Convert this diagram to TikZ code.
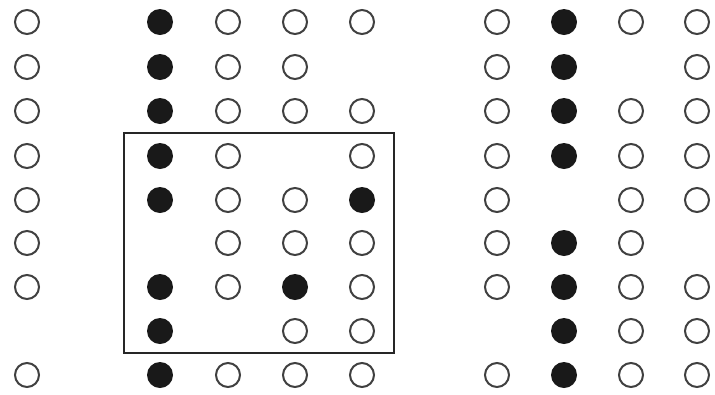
\documentclass[tikz,border=0pt]{standalone}
\usepackage{tikz}
\tikzset{
  hole/.style={circle, draw=black!75, line width=1.5pt, fill=white, minimum size=18pt, inner sep=0pt},
  bead/.style={circle, fill=black!90, minimum size=19.5pt, inner sep=0pt},
  frame/.style={draw=black!85, line width=1.4pt}
}

\begin{document}
\begin{tikzpicture}[x=0.75pt, y=-0.75pt]
  \useasboundingbox (0,0) rectangle (715,394);
  \def\colx{{27,160,228,295,362,497,564,631,697}}
  \def\rowy{{22,67,111,156,200,243,287,331,375}}
  % o = open circle, x = filled, - = empty place
  \foreach \marks [count=\r] in {
      {o,x,o,o,o,o,x,o,o},
      {o,x,o,o,-,o,x,-,o},
      {o,x,o,o,o,o,x,o,o},
      {o,x,o,-,o,o,x,o,o},
      {o,x,o,o,x,o,-,o,o},
      {o,-,o,o,o,o,x,o,-},
      {o,x,o,x,o,o,x,o,o},
      {-,x,-,o,o,-,x,o,o},
      {o,x,o,o,o,o,x,o,o}}{
    \foreach \m [count=\c] in \marks {
      \pgfmathsetmacro\px{\colx[\c-1]}
      \pgfmathsetmacro\py{\rowy[\r-1]}
      \if\m x \node[bead] (p-\r-\c) at (\px,\py) {};\fi
      \if\m o \node[hole] (p-\r-\c) at (\px,\py) {};\fi
    }
  }
  \draw[frame] (124,133) rectangle (394,353);
\end{tikzpicture}
\end{document}
